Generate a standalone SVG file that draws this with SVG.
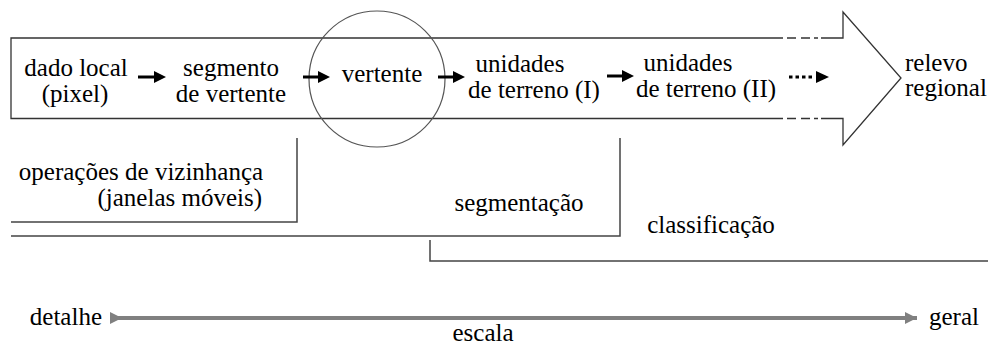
<svg xmlns="http://www.w3.org/2000/svg" width="990" height="345" viewBox="0 0 990 345" font-family="Liberation Serif, Times New Roman, serif">
<style>
text{font-family:"Liberation Serif","Times New Roman",serif;font-size:25px;fill:#000}
.ol{fill:none;stroke:#333;stroke-width:1.3}
.br{fill:none;stroke:#444;stroke-width:1.5}
.ar{stroke:#000;stroke-width:3;fill:none}
.ah{fill:#000}
</style>
<defs>
<marker id="tri" viewBox="0 0 10 10" refX="0" refY="5" markerWidth="3" markerHeight="3" orient="auto" markerUnits="strokeWidth"><path d="M0,0 L10,5 L0,10 z" fill="#808080"/></marker>
<marker id="trie" viewBox="0 0 10 10" refX="10" refY="5" markerWidth="3.5" markerHeight="3" orient="auto" markerUnits="strokeWidth"><path d="M0,0 L10,5 L0,10 z" fill="#808080"/></marker>
</defs>
<g id="big-arrow">
<path class="ol" d="M783,38 L11,38 L11,118.5 L783,118.5"/>
<path class="ol" d="M821,38 L843,38 L843,12 L901,78 L843,145 L843,118.5 L821,118.5"/>
<path class="ol" d="M787,38 H796 M801,38 H810 M814,38 H818 M787,118.5 H796 M801,118.5 H810 M814,118.5 H818"/>
</g>
<g id="circle"><circle cx="377" cy="79" r="68" fill="none" stroke="#555" stroke-width="1.2"/></g>
<g id="n-dado">
<text x="76" y="76" text-anchor="middle">dado local</text>
<text x="75" y="102" text-anchor="middle">(pixel)</text>
</g>
<g id="n-segmento">
<text x="231" y="76" text-anchor="middle">segmento</text>
<text x="231" y="102" text-anchor="middle">de vertente</text>
</g>
<g id="n-vertente"><text x="382" y="82" text-anchor="middle">vertente</text></g>
<g id="n-unidades1">
<text x="520" y="72" text-anchor="middle">unidades</text>
<text x="534" y="98" text-anchor="middle">de terreno (I)</text>
</g>
<g id="n-unidades2">
<text x="688" y="71" text-anchor="middle">unidades</text>
<text x="706" y="97" text-anchor="middle">de terreno (II)</text>
</g>
<g id="n-relevo">
<text x="905" y="71">relevo</text>
<text x="905" y="96">regional</text>
</g>
<g id="connectors">
<path class="ar" d="M138,77 H156"/><path class="ah" d="M154,71 L166,77 L154,83 z"/>
<path class="ar" d="M303,77 H320"/><path class="ah" d="M318,71 L330,77 L318,83 z"/>
<path class="ar" d="M438,77 H455"/><path class="ah" d="M453,71 L465,77 L453,83 z"/>
<path class="ar" d="M607,76 H624"/><path class="ah" d="M622,70 L634,76 L622,82 z"/>
<path class="ar" d="M789,77 H812" stroke-dasharray="3.5 3"/><path class="ah" d="M816,71 L829,77 L816,83 z"/>
</g>
<g id="op-vizinhanca">
<path class="br" d="M297,138 V222 H11"/>
<text x="141" y="180" text-anchor="middle">operações de vizinhança</text>
<text x="262" y="206" text-anchor="end">(janelas móveis)</text>
</g>
<g id="segmentacao">
<path class="br" d="M620,138 V236 H11"/>
<text x="519" y="211" text-anchor="middle">segmentação</text>
</g>
<g id="classificacao">
<path class="br" d="M430,240 V261 H988"/>
<text x="711" y="233" text-anchor="middle">classificação</text>
</g>
<g id="escala">
<line x1="110" y1="318" x2="917" y2="318" stroke="#808080" stroke-width="4" marker-start="url(#tri)" marker-end="url(#trie)"/>
<text x="102" y="325" text-anchor="end">detalhe</text>
<text x="929" y="325">geral</text>
<text x="483" y="341" text-anchor="middle">escala</text>
</g>
</svg>
